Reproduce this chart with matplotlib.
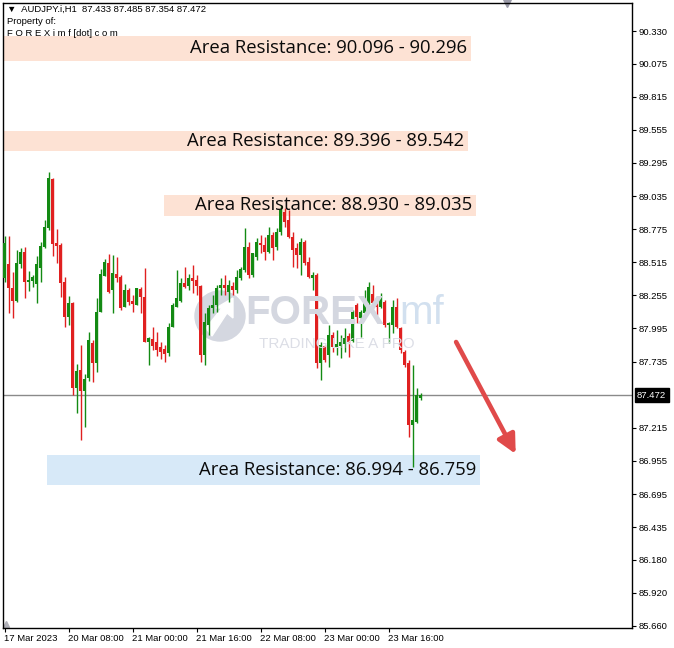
import numpy as np
import matplotlib.pyplot as plt
from matplotlib.patches import Rectangle, Circle, Polygon
from matplotlib.transforms import blended_transform_factory

# AUDJPY H1 candles
opens = [88.391, 88.501, 88.313, 88.211, 88.501, 88.595, 88.360, 88.368, 88.344, 88.470,
         88.635, 88.784, 89.168, 88.666, 88.650, 88.360, 88.085, 88.195, 87.528, 87.670,
         87.505, 87.607, 87.881, 87.724, 88.124, 88.407, 88.509, 88.297, 88.423, 88.399,
         88.164, 88.297, 88.211, 88.179, 88.305, 88.242, 87.889, 87.913, 87.889, 87.850,
         87.834, 87.803, 88.007, 88.164, 88.211, 88.352, 88.329, 88.391, 88.376, 88.329,
         87.787, 88.022, 88.156, 88.179, 88.313, 88.336, 88.281, 88.329, 88.297, 88.391,
         88.454, 88.635, 88.415, 88.556, 88.666, 88.650, 88.595, 88.729, 88.635, 88.752,
         88.909, 88.847, 88.713, 88.627, 88.572, 88.674, 88.517, 88.391, 88.415, 87.724,
         87.858, 87.787, 87.944, 87.850, 87.858, 87.874, 87.936, 87.897, 88.179, 88.077,
         88.117, 88.195, 88.266, 88.203, 88.164, 88.203, 88.022, 88.022, 88.164, 87.999,
         87.811, 87.724, 87.238, 87.261, 87.450]
highs = [88.721, 88.721, 88.438, 88.611, 88.627, 88.635, 88.446, 88.415, 88.564, 88.674,
         88.847, 89.223, 89.176, 88.776, 88.666, 88.399, 88.250, 88.203, 87.717, 87.866,
         87.638, 87.968, 87.905, 88.234, 88.462, 88.540, 88.580, 88.572, 88.556, 88.415,
         88.344, 88.313, 88.258, 88.313, 88.321, 88.470, 87.928, 88.007, 87.968, 87.889,
         87.866, 88.038, 88.195, 88.454, 88.391, 88.478, 88.423, 88.493, 88.415, 88.336,
         88.117, 88.179, 88.258, 88.336, 88.391, 88.415, 88.376, 88.360, 88.454, 88.478,
         88.784, 88.674, 88.588, 88.705, 88.729, 88.713, 88.792, 88.752, 88.784, 88.964,
         88.941, 88.925, 88.752, 88.666, 88.705, 88.690, 88.556, 88.438, 88.431, 87.889,
         87.866, 88.022, 87.968, 87.983, 87.944, 87.999, 87.960, 88.140, 88.195, 88.140,
         88.297, 88.360, 88.336, 88.219, 88.274, 88.219, 88.046, 88.219, 88.234, 88.007,
         87.826, 87.748, 87.709, 87.528, 87.489]
lows = [88.360, 88.117, 88.077, 88.203, 88.470, 88.234, 88.289, 88.321, 88.195, 88.360,
        88.627, 88.768, 88.564, 88.509, 88.242, 88.007, 88.022, 87.473, 87.332, 87.120,
        87.222, 87.583, 87.576, 87.654, 88.124, 88.407, 88.274, 88.117, 88.360, 88.140,
        88.164, 88.179, 88.124, 88.179, 88.117, 87.889, 87.709, 87.826, 87.779, 87.756,
        87.732, 87.779, 88.007, 88.164, 88.203, 88.313, 88.297, 88.274, 88.258, 87.732,
        87.709, 87.944, 88.117, 88.124, 88.258, 88.258, 88.203, 88.258, 88.274, 88.376,
        88.438, 88.391, 88.399, 88.533, 88.588, 88.533, 88.588, 88.533, 88.611, 88.729,
        88.792, 88.705, 88.478, 88.470, 88.415, 88.493, 88.391, 88.297, 87.685, 87.591,
        87.732, 87.693, 87.811, 87.787, 87.764, 87.811, 87.771, 87.889, 88.038, 87.928,
        88.101, 88.179, 88.164, 88.101, 88.156, 88.007, 87.881, 87.960, 87.999, 87.803,
        87.693, 87.143, 86.908, 87.253, 87.434]
closes = [88.666, 88.313, 88.211, 88.509, 88.595, 88.360, 88.376, 88.399, 88.501, 88.642,
          88.792, 89.176, 88.658, 88.642, 88.352, 88.085, 88.195, 87.528, 87.662, 87.505,
          87.599, 87.905, 87.724, 88.124, 88.423, 88.517, 88.281, 88.431, 88.391, 88.156,
          88.297, 88.203, 88.187, 88.313, 88.242, 87.889, 87.921, 87.858, 87.826, 87.811,
          87.795, 88.007, 88.179, 88.234, 88.352, 88.321, 88.391, 88.368, 88.329, 87.787,
          88.046, 88.156, 88.179, 88.313, 88.336, 88.313, 88.336, 88.297, 88.399, 88.462,
          88.635, 88.415, 88.588, 88.674, 88.650, 88.595, 88.729, 88.627, 88.752, 88.925,
          88.831, 88.713, 88.611, 88.572, 88.674, 88.509, 88.399, 88.415, 87.724, 87.866,
          87.748, 87.944, 87.850, 87.874, 87.889, 87.921, 87.889, 88.124, 88.085, 88.124,
          88.203, 88.321, 88.195, 88.164, 88.226, 88.022, 88.038, 88.164, 88.007, 87.826,
          87.709, 87.238, 87.277, 87.473, 87.473]

last_price = 87.472
header = "AUDJPY.i,H1  87.433 87.485 87.354 87.472"

ytick_vals = [90.330, 90.075, 89.815, 89.555, 89.295, 89.035, 88.775, 88.515, 88.255,
              87.995, 87.735, 87.215, 86.955, 86.695, 86.435, 86.180, 85.920, 85.660]
xtick_bars = [0, 16, 32, 48, 64, 80, 96]
xtick_labels = ["17 Mar 2023", "20 Mar 08:00", "21 Mar 00:00", "21 Mar 16:00",
                "22 Mar 08:00", "23 Mar 00:00", "23 Mar 16:00"]

# zones: (x start bar, x end bar, low, high, label, colour)
zones = [(-0.4, 116.6, 90.095, 90.291, "Area Resistance: 90.096 - 90.296", "#fde2d4"),
         (-0.4, 115.9, 89.388, 89.545, "Area Resistance: 89.396 - 89.542", "#fde2d4"),
         (39.9, 117.9, 88.878, 89.043, "Area Resistance: 88.930 - 89.035", "#fde2d4"),
         (10.6, 118.9, 86.766, 87.002, "Area Resistance: 86.994 - 86.759", "#d7e9f8")]

W, H = 674, 648
fig = plt.figure(figsize=(W / 100, H / 100), dpi=100)
ax = fig.add_axes([3 / W, 20 / H, 629 / W, 625 / H])
ax.set_xlim(-0.375, 156.875)
ax.set_ylim(85.644, 90.550)

bull, bear = "#138a13", "#e02020"
x = np.arange(len(opens))
o, h, l, c = map(np.array, (opens, highs, lows, closes))
cols = np.where(c >= o, bull, bear)
ax.vlines(x, l, h, colors=cols, lw=1, zorder=3)
body_lo = np.minimum(o, c)
body_h = np.maximum(np.abs(c - o), 0.012)
ax.bar(x, body_h, bottom=body_lo, width=0.75, color=cols, lw=0, zorder=3)

# zones
for x0, x1, lo, hi, txt, col in zones:
    ax.add_patch(Rectangle((x0, lo), x1 - x0, hi - lo, color=col, lw=0, zorder=1))
    ax.text(x1 - 1.0, (lo + hi) / 2, txt, ha="right", va="center", fontsize=13.3,
            family="Open Sans", color="#0a0a0a", zorder=4)

# current price line
ax.axhline(last_price, color="#8a8a8a", lw=1, zorder=2)

# watermark
wm = "#d4d7e0"
ax.add_patch(Circle((220 / 100, (H - 316) / 100), 0.25, transform=fig.dpi_scale_trans,
                    color=wm, zorder=0.5))
ax.add_patch(Polygon([(2.06, 3.20), (2.22, 3.40), (2.16, 3.40), (2.33, 3.50),
                      (2.33, 3.30), (2.27, 3.35), (2.12, 3.12)], closed=True,
                     transform=fig.dpi_scale_trans, color="white", zorder=0.6))
fig.text(245 / W, 1 - 313 / H, "FOREX", fontsize=29, fontweight="bold", color=wm,
         family="Liberation Sans", va="center", ha="left", zorder=0.5)
fig.text(399 / W, 1 - 313 / H, "mf", fontsize=29, color="#d2e0ef",
         family="Liberation Sans", va="center", ha="left", zorder=0.5)
fig.text(259 / W, 1 - 344 / H, "TRADING LIKE A PRO", fontsize=11, color="#dcdee6",
         family="Liberation Sans", va="center", ha="left", zorder=0.5)

# arrow
ax.annotate("", xy=(127.8, 87.010), xytext=(112.9, 87.889),
            arrowprops=dict(arrowstyle="-|>", lw=3.3, color="#e04a4a",
                            mutation_scale=28, shrinkA=0, shrinkB=0), zorder=5)

# axes styling
for s in ax.spines.values():
    s.set_color("black")
    s.set_linewidth(1)
ax.yaxis.tick_right()
ax.set_yticks(ytick_vals)
ax.set_yticklabels([f"{v:.3f}" for v in ytick_vals])
ax.tick_params(axis="y", length=3, width=0.8, pad=2, labelsize=6.8, colors="black")
ax.set_xticks(xtick_bars)
ax.set_xticklabels(xtick_labels, ha="left")
ax.tick_params(axis="x", length=3, width=0.8, pad=1.5, labelsize=6.8, colors="black")
for t in ax.get_xticklabels() + ax.get_yticklabels():
    t.set_family("Liberation Sans")

# last price tag
tr = blended_transform_factory(ax.transAxes, ax.transData)
ax.text(1.008, last_price, f"{last_price:.3f}", transform=tr, ha="left", va="center",
        fontsize=6.8, family="Liberation Sans", color="white",
        bbox=dict(boxstyle="square,pad=0.25", fc="black", ec="black"), clip_on=False)

# chart shift markers
ax.plot([125.6], [1.0], marker="v", ms=6, color="#9a9aa8",
        transform=blended_transform_factory(ax.transData, ax.transAxes), clip_on=False)
ax.plot([0.3], [0.006], marker="^", ms=4, color="#b0b0b8",
        transform=blended_transform_factory(ax.transData, ax.transAxes), clip_on=False)

# header text
fig.text(7 / W, 1 - 9 / H, "\u25bc  " + header, fontsize=6.8, va="center",
         family=["Liberation Sans", "DejaVu Sans"])
fig.text(7 / W, 1 - 22 / H, "Property of:", fontsize=6.8, va="center",
         family="Liberation Sans")
fig.text(7 / W, 1 - 34 / H, "F O R E X i m f [dot] c o m", fontsize=6.8, va="center",
         family="Liberation Sans")

plt.savefig("out.png", dpi=100)
